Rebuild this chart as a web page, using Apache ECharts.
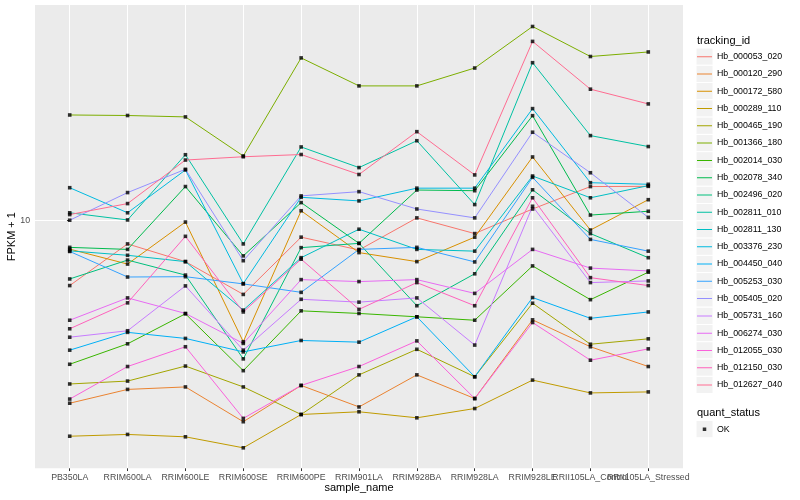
<!DOCTYPE html>
<html>
<head>
<meta charset="utf-8">
<script src="https://cdn.jsdelivr.net/npm/echarts@6/dist/echarts.min.js"></script>
<style>html,body{margin:0;padding:0;background:#fff}#c{width:800px;height:500px}</style>
</head>
<body>
<div id="c"></div>
<script>
// ---- data ----
const categories = ['PB350LA','RRIM600LA','RRIM600LE','RRIM600SE','RRIM600PE','RRIM901LA','RRIM928BA','RRIM928LA','RRIM928LE','RRII105LA_Control','RRII105LA_Stressed'];
const yTickValues = [10];

const hb_000053_020 = [7.79, 9.14, 8.54, 7.53, 9.38, 8.93, 10.10, 9.51, 10.45, 11.39, 11.40];
const hb_000120_290 = [4.96, 5.23, 5.28, 4.62, 5.31, 4.89, 5.53, 5.05, 6.83, 6.16, 5.71];
const hb_000172_580 = [8.96, 8.46, 9.94, 6.28, 10.38, 8.84, 8.54, 9.38, 12.76, 9.64, 10.83];
const hb_000289_110 = [4.37, 4.40, 4.36, 4.18, 4.75, 4.80, 4.69, 4.86, 5.42, 5.16, 5.18];
const hb_000465_190 = [5.34, 5.40, 5.72, 5.28, 4.75, 5.53, 6.10, 5.49, 7.28, 6.22, 6.35];
const hb_001366_180 = [14.99, 14.96, 14.88, 12.81, 18.66, 16.76, 16.76, 17.95, 21.05, 18.76, 19.09];
const hb_002014_030 = [5.76, 6.23, 6.99, 5.62, 7.07, 7.00, 6.91, 6.82, 8.40, 7.38, 8.20];
const hb_002078_340 = [9.02, 8.95, 11.39, 8.73, 10.71, 9.16, 11.24, 11.21, 14.95, 10.21, 10.36];
const hb_002496_020 = [7.99, 8.59, 8.11, 5.88, 9.01, 9.16, 7.21, 8.15, 11.25, 9.51, 8.67];
const hb_002811_010 = [10.30, 10.02, 12.87, 9.14, 13.26, 12.25, 13.58, 10.63, 18.32, 13.85, 13.28];
const hb_002811_130 = [8.90, 8.75, 8.54, 7.09, 8.67, 9.67, 8.95, 8.89, 11.86, 10.91, 11.43];
const hb_003376_230 = [11.34, 10.30, 12.14, 7.85, 10.93, 10.78, 11.32, 11.32, 15.36, 11.56, 11.49];
const hb_004450_040 = [6.08, 6.51, 6.36, 6.04, 6.31, 6.27, 6.91, 5.49, 7.44, 6.87, 7.04];
const hb_005253_030 = [8.88, 8.05, 8.06, 7.84, 7.59, 8.95, 9.02, 8.53, 11.80, 9.30, 8.89];
const hb_005405_020 = [10.01, 11.13, 12.17, 8.57, 10.99, 11.17, 10.45, 10.10, 14.03, 12.01, 10.12];
const hb_005731_160 = [6.39, 6.55, 7.78, 6.08, 7.39, 7.31, 7.43, 6.20, 10.56, 7.88, 7.93];
const hb_006274_030 = [6.82, 7.43, 7.00, 6.24, 7.97, 7.91, 7.97, 7.56, 8.95, 8.33, 8.24];
const hb_012055_030 = [5.04, 5.71, 6.16, 4.68, 5.31, 5.71, 6.30, 5.05, 6.76, 5.85, 6.11];
const hb_012150_030 = [6.60, 7.29, 9.41, 7.04, 8.62, 7.11, 7.88, 7.21, 10.91, 8.03, 7.79];
const hb_012627_040 = [10.23, 10.67, 12.61, 12.77, 12.88, 11.93, 14.06, 11.91, 19.88, 16.55, 15.64];

const trackingIds = ['Hb_000053_020','Hb_000120_290','Hb_000172_580','Hb_000289_110','Hb_000465_190','Hb_001366_180','Hb_002014_030','Hb_002078_340','Hb_002496_020','Hb_002811_010','Hb_002811_130','Hb_003376_230','Hb_004450_040','Hb_005253_030','Hb_005405_020','Hb_005731_160','Hb_006274_030','Hb_012055_030','Hb_012150_030','Hb_012627_040'];
const seriesValues = [hb_000053_020, hb_000120_290, hb_000172_580, hb_000289_110, hb_000465_190, hb_001366_180, hb_002014_030, hb_002078_340, hb_002496_020, hb_002811_010, hb_002811_130, hb_003376_230, hb_004450_040, hb_005253_030, hb_005405_020, hb_005731_160, hb_006274_030, hb_012055_030, hb_012150_030, hb_012627_040];
const quantStatus = ['OK'];

// ---- style ----
const palette = ['#F8766D','#EA8331','#D89000','#C09B00','#A3A500','#7CAE00','#39B600','#00BB4E','#00BF7D','#00C1A3','#00BFC4','#00BAE0','#00B0F6','#35A2FF','#9590FF','#C77CFF','#E76BF3','#FA62DB','#FF62BC','#FF6C91'];
const FONT = '"Liberation Sans", Arial, Helvetica, sans-serif';
const KEY_H = 17.28, LEG_TOP = 48, LEG_LEFT = 697;

const xTickValues = categories.map((c, i) => i);
// labels split over two axes so that overlapping labels are all drawn (as in the reference)
const xLabelsA = xTickValues.filter(i => i % 2 === 0 || i < 8);
const xLabelsB = xTickValues.filter(i => xLabelsA.indexOf(i) < 0);

const lineSeries = trackingIds.map((id, k) => ({
  name: id,
  type: 'line',
  data: seriesValues[k].map((v, i) => [i, v]),
  symbol: 'none',
  showSymbol: false,
  color: palette[k],
  lineStyle: { color: palette[k], width: 1 },
  silent: true,
  z: 2
}));

const pointData = [];
seriesValues.forEach(arr => arr.forEach((v, i) => pointData.push([i, v])));

const graphics = [
  { type: 'text', x: LEG_LEFT, y: 40.5, style: { text: 'tracking_id', font: '11px ' + FONT, fill: '#000', verticalAlign: 'middle' } },
  { type: 'text', x: LEG_LEFT, y: 412.5, style: { text: 'quant_status', font: '11px ' + FONT, fill: '#000', verticalAlign: 'middle' } },
  { type: 'rect', shape: { x: LEG_LEFT - 1, y: 420.5, width: 17, height: KEY_H }, style: { fill: '#F2F2F2', stroke: '#FFFFFF', lineWidth: 1 }, z: 0 }
];
trackingIds.forEach((id, i) => {
  graphics.push({ type: 'rect', shape: { x: LEG_LEFT - 1, y: LEG_TOP + i * KEY_H, width: 17, height: KEY_H }, style: { fill: '#F2F2F2', stroke: '#FFFFFF', lineWidth: 1 }, z: 0 });
});

const xLabelStyle = { color: '#4D4D4D', fontSize: 8.8, margin: 4.95, fontFamily: FONT, showMinLabel: true, showMaxLabel: true, hideOverlap: false, formatter: v => categories[Math.round(v)] };

const chart = echarts.init(document.getElementById('c'), null, { renderer: 'canvas' });
chart.setOption({
  animation: false,
  backgroundColor: '#FFFFFF',
  textStyle: { fontFamily: FONT },
  grid: { left: 35, top: 5, width: 648, height: 463.3, show: true, backgroundColor: '#EBEBEB', borderWidth: 0, containLabel: false, outerBoundsMode: 'none' },
  xAxis: [{
    type: 'value', min: -0.6, max: 10.6, position: 'bottom',
    axisLine: { show: false },
    axisTick: { show: true, length: 2.75, lineStyle: { color: '#333333', width: 1 }, customValues: xTickValues },
    axisLabel: Object.assign({ customValues: xLabelsA }, xLabelStyle),
    splitLine: { show: true, lineStyle: { color: '#FFFFFF', width: 1 } },
    name: 'sample_name', nameLocation: 'middle', nameGap: 14, nameMoveOverlap: false,
    nameTextStyle: { color: '#000', fontSize: 11, fontFamily: FONT }
  }, {
    type: 'value', min: -0.6, max: 10.6, position: 'bottom', offset: 0,
    axisLine: { show: false },
    axisTick: { show: false, customValues: xLabelsB },
    axisLabel: Object.assign({ customValues: xLabelsB }, xLabelStyle),
    splitLine: { show: false }
  }],
  yAxis: {
    type: 'log', logBase: 10, min: 3.864, max: 22.86,
    axisLine: { show: false },
    axisTick: { show: true, length: 2.75, lineStyle: { color: '#333333', width: 1 }, customValues: yTickValues },
    axisLabel: { customValues: yTickValues, color: '#4D4D4D', fontSize: 8.8, margin: 4.95, fontFamily: FONT },
    splitLine: { show: true, lineStyle: { color: '#FFFFFF', width: 1 } },
    name: 'FPKM + 1', nameLocation: 'middle', nameGap: 18, nameMoveOverlap: false,
    nameTextStyle: { color: '#000', fontSize: 11, fontFamily: FONT }
  },
  legend: [
    {
      data: trackingIds, orient: 'vertical', left: LEG_LEFT, top: LEG_TOP, padding: 0,
      itemWidth: 15, itemHeight: KEY_H, itemGap: 0, selectedMode: false,
      icon: 'path://M0,0L0,0ZM0,16.4L30,16.4L30,18.4L0,18.4ZM30,34.56L30,34.56Z',
      itemStyle: { borderWidth: 0 },
      textStyle: { fontSize: 8.8, color: '#000', fontFamily: FONT }
    },
    {
      data: quantStatus, orient: 'vertical', left: LEG_LEFT, top: 420.5, padding: 0,
      itemWidth: 15, itemHeight: KEY_H, itemGap: 0, selectedMode: false,
      icon: 'path://M0,0L0,0ZM5.75,6.9L9.25,6.9L9.25,10.4L5.75,10.4ZM15,17.28L15,17.28Z',
      itemStyle: { borderWidth: 0 },
      textStyle: { fontSize: 8.8, color: '#000', fontFamily: FONT }
    }
  ],
  graphic: graphics,
  series: lineSeries.concat([{
    name: 'OK', type: 'scatter', data: pointData,
    symbol: 'rect', symbolSize: 3.6, color: '#000000',
    itemStyle: { color: '#000000' }, silent: true, z: 3
  }])
});
</script>
</body>
</html>
